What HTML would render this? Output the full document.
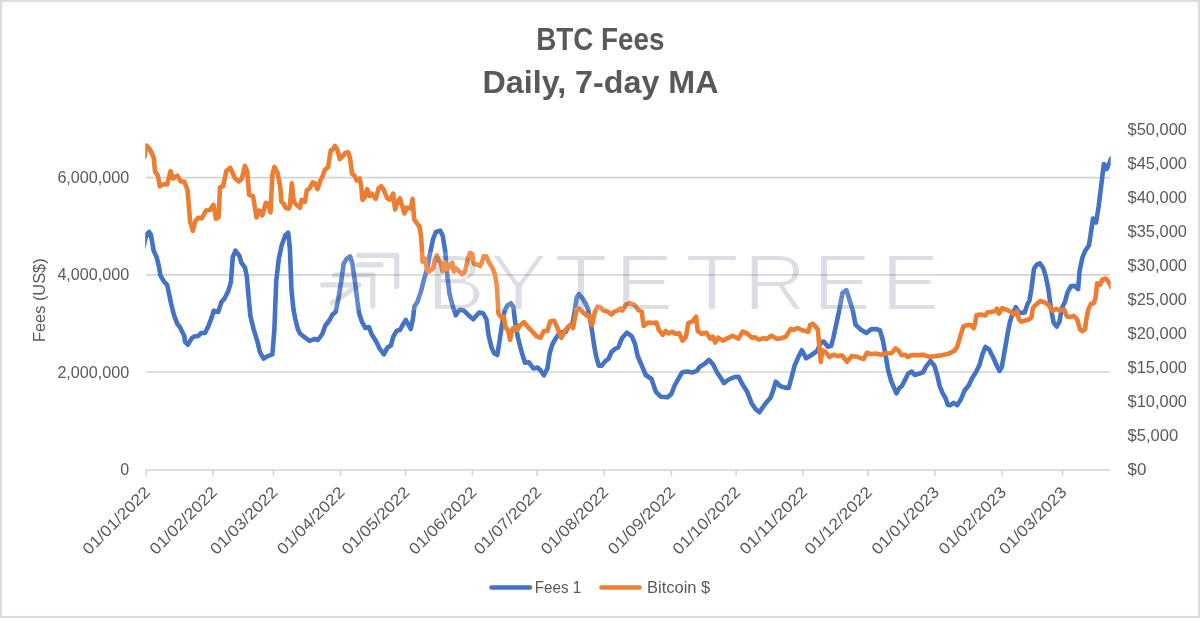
<!DOCTYPE html>
<html lang="en">
<head>
<meta charset="utf-8">
<title>BTC Fees Daily, 7-day MA</title>
<style>
html,body{margin:0;padding:0;background:#fff;}
body{width:1200px;height:618px;overflow:hidden;}
svg{display:block;}
text{font-family:"Liberation Sans",sans-serif;fill:#595959;}
.t{font-weight:bold;font-size:31px;text-anchor:middle;}
.a{font-size:16px;}
.wm{font-family:"Liberation Sans",sans-serif;font-size:79.5px;fill:rgb(221,222,229);}
</style>
</head>
<body>
<svg width="1200" height="618" viewBox="0 0 1200 618">
<defs><filter id="thin" x="-5%" y="-10%" width="110%" height="120%"><feMorphology operator="erode" radius="0.5 0.5"/></filter></defs>
<clipPath id="pa"><rect x="145.2" y="120" width="965.5" height="352"/></clipPath>
<rect x="0" y="0" width="1200" height="618" fill="#ffffff"/>
<rect x="1" y="1" width="1198" height="616" fill="none" stroke="#dcdcdc" stroke-width="2.2"/>
<text class="t" x="600.3" y="49.7" textLength="128.3" lengthAdjust="spacingAndGlyphs">BTC Fees</text>
<text class="t" x="600.5" y="92.6" textLength="236" lengthAdjust="spacingAndGlyphs">Daily, 7-day MA</text>
<g stroke="#d3d3d3" stroke-width="1.6" fill="none">
<line x1="146" y1="177.65" x2="1110" y2="177.65"/>
<line x1="146" y1="274.85" x2="1110" y2="274.85"/>
<line x1="146" y1="371.95" x2="1110" y2="371.95"/>
<line x1="146" y1="470" x2="1110" y2="470"/>
<line x1="146.0" y1="470" x2="146.0" y2="475.7"/>
<line x1="213.0" y1="470" x2="213.0" y2="475.7"/>
<line x1="273.5" y1="470" x2="273.5" y2="475.7"/>
<line x1="340.5" y1="470" x2="340.5" y2="475.7"/>
<line x1="405.4" y1="470" x2="405.4" y2="475.7"/>
<line x1="472.4" y1="470" x2="472.4" y2="475.7"/>
<line x1="537.2" y1="470" x2="537.2" y2="475.7"/>
<line x1="604.3" y1="470" x2="604.3" y2="475.7"/>
<line x1="671.3" y1="470" x2="671.3" y2="475.7"/>
<line x1="736.1" y1="470" x2="736.1" y2="475.7"/>
<line x1="803.1" y1="470" x2="803.1" y2="475.7"/>
<line x1="868.0" y1="470" x2="868.0" y2="475.7"/>
<line x1="935.0" y1="470" x2="935.0" y2="475.7"/>
<line x1="1002.0" y1="470" x2="1002.0" y2="475.7"/>
<line x1="1062.5" y1="470" x2="1062.5" y2="475.7"/>
</g>
<text class="a" x="129.2" y="182.8" text-anchor="end" textLength="71.8" lengthAdjust="spacingAndGlyphs">6,000,000</text>
<text class="a" x="129.2" y="280.4" text-anchor="end" textLength="71.8" lengthAdjust="spacingAndGlyphs">4,000,000</text>
<text class="a" x="129.2" y="377.6" text-anchor="end" textLength="71.8" lengthAdjust="spacingAndGlyphs">2,000,000</text>
<text class="a" x="129.2" y="474.9" text-anchor="end">0</text>
<text x="0" y="0" font-size="17" text-anchor="middle" textLength="83.6" lengthAdjust="spacingAndGlyphs" transform="translate(45.2,300.2) rotate(-90)">Fees (US$)</text>
<text class="a" x="1127.6" y="474.6" textLength="18.8" lengthAdjust="spacingAndGlyphs">$0</text>
<text class="a" x="1127.6" y="440.7" textLength="50.6" lengthAdjust="spacingAndGlyphs">$5,000</text>
<text class="a" x="1127.6" y="406.7" textLength="59.3" lengthAdjust="spacingAndGlyphs">$10,000</text>
<text class="a" x="1127.6" y="372.8" textLength="59.3" lengthAdjust="spacingAndGlyphs">$15,000</text>
<text class="a" x="1127.6" y="338.8" textLength="59.3" lengthAdjust="spacingAndGlyphs">$20,000</text>
<text class="a" x="1127.6" y="304.9" textLength="59.3" lengthAdjust="spacingAndGlyphs">$25,000</text>
<text class="a" x="1127.6" y="271.0" textLength="59.3" lengthAdjust="spacingAndGlyphs">$30,000</text>
<text class="a" x="1127.6" y="237.0" textLength="59.3" lengthAdjust="spacingAndGlyphs">$35,000</text>
<text class="a" x="1127.6" y="203.1" textLength="59.3" lengthAdjust="spacingAndGlyphs">$40,000</text>
<text class="a" x="1127.6" y="169.1" textLength="59.3" lengthAdjust="spacingAndGlyphs">$45,000</text>
<text class="a" x="1127.6" y="135.2" textLength="59.3" lengthAdjust="spacingAndGlyphs">$50,000</text>
<text class="a" text-anchor="end" textLength="88" lengthAdjust="spacingAndGlyphs" transform="translate(151.2,493.2) rotate(-45)">01/01/2022</text>
<text class="a" text-anchor="end" textLength="88" lengthAdjust="spacingAndGlyphs" transform="translate(218.2,493.2) rotate(-45)">01/02/2022</text>
<text class="a" text-anchor="end" textLength="88" lengthAdjust="spacingAndGlyphs" transform="translate(278.7,493.2) rotate(-45)">01/03/2022</text>
<text class="a" text-anchor="end" textLength="88" lengthAdjust="spacingAndGlyphs" transform="translate(345.7,493.2) rotate(-45)">01/04/2022</text>
<text class="a" text-anchor="end" textLength="88" lengthAdjust="spacingAndGlyphs" transform="translate(410.6,493.2) rotate(-45)">01/05/2022</text>
<text class="a" text-anchor="end" textLength="88" lengthAdjust="spacingAndGlyphs" transform="translate(477.6,493.2) rotate(-45)">01/06/2022</text>
<text class="a" text-anchor="end" textLength="88" lengthAdjust="spacingAndGlyphs" transform="translate(542.4,493.2) rotate(-45)">01/07/2022</text>
<text class="a" text-anchor="end" textLength="88" lengthAdjust="spacingAndGlyphs" transform="translate(609.5,493.2) rotate(-45)">01/08/2022</text>
<text class="a" text-anchor="end" textLength="88" lengthAdjust="spacingAndGlyphs" transform="translate(676.5,493.2) rotate(-45)">01/09/2022</text>
<text class="a" text-anchor="end" textLength="88" lengthAdjust="spacingAndGlyphs" transform="translate(741.3,493.2) rotate(-45)">01/10/2022</text>
<text class="a" text-anchor="end" textLength="88" lengthAdjust="spacingAndGlyphs" transform="translate(808.3,493.2) rotate(-45)">01/11/2022</text>
<text class="a" text-anchor="end" textLength="88" lengthAdjust="spacingAndGlyphs" transform="translate(873.2,493.2) rotate(-45)">01/12/2022</text>
<text class="a" text-anchor="end" textLength="88" lengthAdjust="spacingAndGlyphs" transform="translate(940.2,493.2) rotate(-45)">01/01/2023</text>
<text class="a" text-anchor="end" textLength="88" lengthAdjust="spacingAndGlyphs" transform="translate(1007.2,493.2) rotate(-45)">01/02/2023</text>
<text class="a" text-anchor="end" textLength="88" lengthAdjust="spacingAndGlyphs" transform="translate(1067.7,493.2) rotate(-45)">01/03/2023</text>
<polyline clip-path="url(#pa)" points="143.5,247.0 145.5,238.0 147.5,233.5 149.2,232.0 150.8,234.5 152.5,244.0 153.6,250.5 156.5,256.9 159.0,266.6 160.4,275.3 163.7,281.2 167.2,285.0 171.1,303.5 174.0,315.1 177.3,323.9 179.8,327.0 182.3,332.0 184.3,335.9 185.0,341.7 187.8,344.7 192.0,337.9 194.4,336.5 198.3,335.9 201.2,333.0 205.0,333.0 208.9,324.9 211.8,317.1 213.8,310.7 218.1,312.0 221.6,301.8 224.5,298.6 228.3,290.9 230.9,282.1 232.8,256.9 235.5,250.7 239.4,255.9 241.4,262.7 244.9,267.6 246.8,276.3 248.7,298.0 250.3,315.5 253.6,329.1 257.5,341.7 260.0,352.4 263.7,358.6 267.2,356.3 272.4,354.4 274.4,329.1 275.3,305.0 276.3,280.2 278.8,258.8 281.7,245.2 285.2,235.5 288.2,232.6 289.9,249.1 291.5,290.0 293.4,309.0 295.3,319.0 297.8,329.0 300.0,333.5 303.9,336.7 309.7,341.0 314.6,338.8 317.9,340.0 322.3,334.0 325.4,325.5 329.6,320.0 332.3,314.8 335.6,312.0 337.9,301.6 340.8,284.1 343.7,263.7 346.6,258.8 350.1,256.5 352.4,263.7 355.3,284.1 357.5,302.0 359.2,313.6 362.0,322.0 365.5,328.0 369.0,327.0 371.5,334.0 375.7,340.8 379.6,348.5 383.9,354.4 387.4,347.6 390.9,345.6 393.2,336.9 396.7,330.7 400.0,330.0 402.9,324.5 405.8,320.0 410.7,329.0 413.0,318.5 414.4,306.5 417.5,301.8 421.4,289.9 424.3,278.3 427.2,268.5 430.1,253.0 433.0,239.4 435.9,232.0 440.2,230.7 442.7,235.5 445.2,251.1 447.6,278.3 449.5,293.8 452.4,305.0 455.8,315.3 458.3,311.3 460.0,309.7 463.9,310.6 468.7,315.4 473.2,319.3 476.5,315.4 479.4,312.5 483.3,313.5 486.5,319.5 488.6,335.2 491.5,347.4 494.0,353.0 497.3,355.0 499.8,339.4 501.9,325.0 504.7,310.6 507.6,305.2 510.9,303.2 513.4,307.0 515.1,322.0 517.8,337.0 521.2,350.5 525.0,362.7 528.9,362.3 533.4,368.5 537.7,367.6 540.6,370.5 543.9,375.3 547.4,368.5 549.7,353.0 552.5,344.0 556.0,338.0 560.0,332.3 565.4,332.3 568.3,327.1 572.6,323.2 574.6,311.6 576.5,298.0 578.8,294.1 582.3,298.0 585.2,302.8 588.2,309.6 590.5,321.3 592.2,332.0 594.2,346.0 596.3,356.9 598.8,365.6 601.7,365.6 605.6,360.8 608.5,358.8 611.5,352.0 614.8,349.0 618.3,347.5 620.0,343.0 622.1,338.0 626.8,332.7 631.7,336.1 635.1,344.0 637.5,355.5 641.8,365.7 645.7,375.0 651.5,379.0 655.9,391.8 660.8,396.7 667.6,397.3 671.5,393.8 674.4,386.0 679.2,377.3 682.0,372.5 687.0,371.6 692.8,372.5 697.0,370.6 699.8,366.7 704.7,363.8 708.9,359.9 713.0,364.3 717.1,372.5 721.0,378.3 723.9,383.1 728.7,379.5 734.6,377.0 738.6,376.7 742.3,384.1 747.2,391.8 751.7,403.5 755.9,409.3 759.4,412.2 764.7,404.5 770.5,397.7 773.4,389.9 775.7,381.7 780.0,386.0 784.9,387.6 788.7,388.0 791.3,378.3 794.6,365.6 798.4,356.9 801.8,350.2 806.2,358.3 811.5,355.0 816.9,351.2 821.0,342.4 823.7,341.5 828.0,346.8 831.2,345.8 833.3,338.0 836.3,324.1 839.2,310.5 842.5,293.0 846.4,290.1 848.9,297.9 852.8,310.5 855.5,324.5 861.0,329.8 866.4,333.0 871.3,329.1 876.6,329.1 880.0,330.5 882.9,340.5 885.8,356.5 888.2,370.5 891.5,382.0 896.5,393.4 899.4,388.0 901.9,386.0 905.2,379.5 908.2,373.5 911.8,371.6 914.7,375.0 918.8,373.8 923.3,372.0 925.6,367.2 930.5,360.9 934.4,365.7 937.3,375.5 939.7,386.0 942.6,393.2 945.5,398.1 947.9,404.9 950.4,405.2 953.7,402.9 957.2,405.2 961.1,399.0 964.6,390.3 968.8,385.4 972.3,377.7 975.6,372.8 979.5,365.0 982.4,354.4 985.3,347.0 989.2,349.5 993.1,357.3 997.0,366.0 999.5,370.9 1001.8,367.0 1004.3,353.0 1007.2,336.0 1009.8,322.3 1012.5,313.5 1015.8,307.2 1018.6,312.0 1021.4,313.0 1024.7,312.5 1027.4,304.5 1029.5,300.5 1031.5,288.3 1034.0,268.8 1036.9,264.6 1039.8,263.4 1043.1,267.9 1045.6,275.6 1048.2,288.3 1050.9,308.0 1053.6,322.5 1056.7,326.6 1059.5,321.5 1061.7,308.5 1065.0,301.8 1067.6,292.1 1070.9,286.3 1074.8,285.9 1078.1,289.2 1079.6,270.8 1082.3,258.0 1085.1,251.0 1089.0,245.2 1091.1,231.3 1093.0,218.6 1096.1,222.5 1098.7,206.0 1101.8,180.8 1103.8,164.0 1106.7,169.1 1109.4,162.6 1111.5,158.0" fill="none" stroke="#4472c4" stroke-width="4.6" stroke-linejoin="round" stroke-linecap="round"/>
<polyline clip-path="url(#pa)" points="144.5,157.0 146.6,145.6 149.8,149.3 153.6,157.0 155.1,171.7 157.9,175.6 159.8,186.3 164.3,184.0 167.2,184.4 170.5,171.2 173.0,178.5 177.3,175.6 180.8,181.5 184.3,181.5 187.6,190.2 190.1,221.3 192.8,231.0 195.3,221.3 198.3,217.8 201.7,218.3 206.0,210.6 209.9,210.0 213.4,204.8 216.1,218.9 218.6,217.4 220.0,187.3 223.1,186.3 226.4,170.8 230.3,167.9 235.1,178.5 239.0,181.5 241.9,178.5 244.9,165.9 247.2,171.7 249.1,195.0 253.0,196.0 256.5,217.4 259.4,210.6 262.3,215.4 265.8,202.8 268.2,203.8 270.5,212.5 272.4,174.7 274.4,166.9 277.5,172.7 280.2,186.3 281.4,201.8 283.7,203.8 285.6,207.7 288.5,208.6 289.9,206.7 291.8,183.4 293.8,201.8 297.3,205.7 300.0,207.7 301.6,199.9 304.9,201.8 306.8,190.2 309.7,188.3 312.6,182.4 315.1,183.4 317.5,189.2 320.4,180.5 322.9,175.6 324.9,169.8 328.2,166.9 330.7,150.4 333.0,149.4 335.0,145.9 337.3,149.4 339.8,159.1 342.7,156.2 345.0,153.3 348.2,152.3 350.1,158.2 352.0,173.7 354.4,175.6 356.7,180.5 359.8,178.5 361.2,186.3 362.5,199.9 365.0,197.0 367.2,189.2 369.5,196.0 371.8,193.7 375.7,198.9 378.6,188.3 381.2,186.3 383.5,189.2 387.0,198.0 389.7,199.9 393.2,193.7 395.1,209.6 398.1,200.9 400.0,198.3 401.9,204.8 404.5,213.5 406.8,207.7 410.7,208.6 412.6,198.9 414.2,219.3 416.5,222.8 419.4,226.5 421.0,235.5 422.1,252.0 422.5,261.7 425.2,258.8 427.2,270.5 429.1,271.5 433.0,268.5 435.0,258.8 436.9,255.4 438.8,260.8 440.8,262.7 442.7,271.5 445.1,262.7 447.6,269.5 450.5,264.7 452.2,262.7 453.9,271.5 456.3,268.5 462.1,274.4 465.0,271.5 468.0,258.8 469.9,253.0 472.3,254.0 473.8,263.7 477.7,264.7 480.0,266.0 481.7,263.0 483.7,256.2 486.2,256.2 489.1,263.0 492.0,266.9 495.0,274.7 496.9,286.3 498.4,313.5 501.2,317.4 503.7,316.4 505.6,327.1 508.2,331.0 510.1,339.7 512.4,329.0 515.3,327.1 517.3,330.0 520.2,325.1 524.1,322.2 528.0,327.1 532.8,331.9 536.7,336.4 540.6,337.8 543.9,331.0 547.4,331.0 550.3,321.3 554.2,320.9 557.1,327.1 561.4,337.8 564.9,331.0 568.7,326.1 571.7,325.1 573.0,328.1 576.5,309.6 578.8,308.6 582.3,311.6 586.2,315.4 589.1,315.4 592.0,325.1 595.0,311.6 597.5,306.7 600.8,307.7 603.7,310.6 607.6,311.6 611.5,314.5 614.4,311.6 617.3,310.6 620.0,308.5 622.3,310.5 625.8,304.7 629.7,303.1 634.6,305.0 638.4,310.1 641.7,311.5 643.7,326.0 648.2,322.5 653.0,323.1 656.5,322.5 658.8,329.9 662.7,334.8 665.6,330.9 668.5,333.4 672.0,331.8 675.3,333.8 679.2,333.4 682.5,340.6 686.0,336.7 688.3,323.1 692.8,321.2 696.1,316.7 697.7,330.9 701.6,333.8 706.4,332.8 710.3,338.6 712.8,336.7 715.1,342.5 718.1,337.7 722.9,340.6 726.8,338.6 732.6,335.7 738.4,338.6 742.7,331.5 746.2,332.8 752.0,337.7 755.0,337.3 758.8,339.6 763.7,338.1 766.6,339.2 771.5,335.7 776.3,338.6 780.0,338.6 785.8,336.7 790.7,328.9 793.6,329.9 797.5,328.0 802.3,330.3 808.2,331.8 810.1,325.0 812.6,323.7 815.9,327.0 817.9,329.9 819.2,345.4 820.8,361.9 822.3,350.3 824.7,351.3 829.5,357.1 833.4,354.8 837.3,356.1 842.1,355.5 847.0,361.9 851.8,356.1 857.7,357.1 863.5,359.0 867.0,352.8 871.3,354.2 875.1,353.6 881.0,354.8 886.8,353.2 891.7,353.2 895.5,348.3 898.4,350.3 901.4,355.1 905.2,354.8 907.8,357.1 911.1,355.1 917.9,355.1 923.7,354.8 928.5,356.7 935.3,356.1 940.0,355.5 941.7,355.3 949.4,353.4 954.3,350.9 957.2,346.6 960.1,336.9 963.4,326.2 967.9,324.9 971.2,325.2 973.7,328.2 975.0,323.3 976.6,315.1 980.9,314.6 985.3,315.5 987.3,312.6 992.1,311.7 995.0,311.3 997.0,308.7 998.9,313.6 1002.2,308.2 1006.7,309.7 1010.6,311.7 1013.9,314.6 1017.0,311.3 1018.9,319.4 1021.3,321.7 1025.1,320.4 1029.0,319.4 1031.4,317.5 1032.9,307.8 1036.8,303.9 1040.3,301.0 1044.6,302.3 1048.4,304.9 1052.3,310.7 1056.2,308.7 1060.1,310.7 1064.0,309.3 1066.9,316.5 1069.8,317.1 1073.7,315.9 1077.2,319.4 1079.9,329.1 1082.4,331.1 1085.0,329.1 1086.3,319.4 1088.3,309.6 1090.9,303.8 1093.6,303.4 1095.5,298.0 1097.1,283.4 1100.0,284.8 1102.5,279.5 1105.8,278.5 1108.3,281.5 1109.7,284.0 1111.5,287.5" fill="none" stroke="#ed7d31" stroke-width="4.6" stroke-linejoin="round" stroke-linecap="round"/>
<rect x="320" y="252" width="615.7" height="58" fill="#ffffff" fill-opacity="0.15"/>
<g style="mix-blend-mode:multiply">
<g fill="none" stroke="rgb(221,222,229)" stroke-width="5.2" stroke-linecap="round" stroke-linejoin="round">
<polyline points="358.5,255.4 396.7,255.4 396.7,286.6"/>
<line x1="358.5" y1="264.8" x2="381" y2="264.8"/>
<polyline points="334.4,275 372.8,275 372.8,306"/>
<polyline points="322.8,284.9 359,284.9 332.3,303"/>
</g>
<text class="wm" filter="url(#thin)" transform="scale(1.1,1)" y="309.6" x="388.0 444.9 503.9 559.0 622.9 675.9 738.8 801.2">BYTETREE</text>
</g>
<line x1="491.5" y1="587.5" x2="530" y2="587.5" stroke="#4472c4" stroke-width="4.4" stroke-linecap="round"/>
<text class="a" x="534.8" y="592.8" textLength="46.5" lengthAdjust="spacingAndGlyphs">Fees 1</text>
<line x1="601.4" y1="587.5" x2="639.6" y2="587.5" stroke="#ed7d31" stroke-width="4.4" stroke-linecap="round"/>
<text class="a" x="647.0" y="592.8" textLength="63.3" lengthAdjust="spacingAndGlyphs">Bitcoin $</text>
</svg>
</body>
</html>
